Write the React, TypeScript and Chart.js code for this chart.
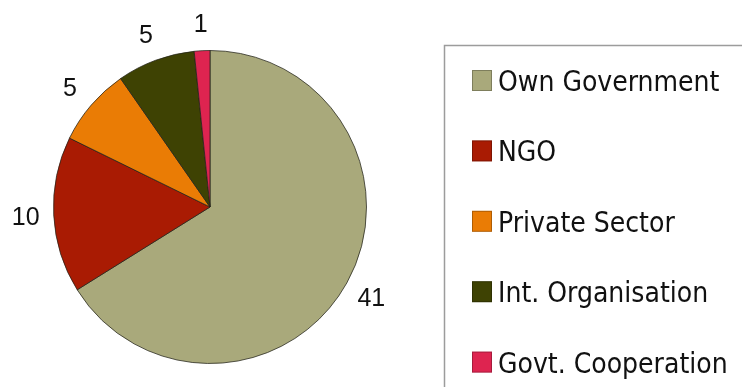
import React, { useEffect, useRef } from "react";
import { Chart, registerables } from "chart.js";

Chart.register(...registerables);

const categories = ["Own Government", "NGO", "Private Sector", "Int. Organisation", "Govt. Cooperation"];
const values = [41, 10, 5, 5, 1];
const colors = ["#a9a97b", "#a91b03", "#ea7c05", "#3e4203", "#de2450"];

const sliceLabels = {
  id: "sliceLabels",
  afterDatasetsDraw(chart: any) {
    const ctx = chart.ctx;
    const meta = chart.getDatasetMeta(0);
    const ds = chart.data.datasets[0];
    ctx.save();
    ctx.font = '25px "Liberation Sans", Arial, sans-serif';
    ctx.fillStyle = "#111";
    ctx.textAlign = "center";
    ctx.textBaseline = "alphabetic";
    meta.data.forEach((arc: any, i: number) => {
      const p = arc.getProps(["x", "y", "startAngle", "endAngle", "outerRadius"], true);
      const mid = (p.startAngle + p.endAngle) / 2;
      const r = p.outerRadius + 28;
      const x = p.x + r * Math.cos(mid);
      const y = p.y + r * Math.sin(mid);
      ctx.fillText(String(ds.data[i]), x, y + 9);
    });
    ctx.restore();
  },
};

const boxLegend = {
  id: "boxLegend",
  afterDraw(chart: any) {
    const ctx = chart.ctx;
    const ds = chart.data.datasets[0];
    ctx.save();
    ctx.strokeStyle = "#9c9c9c";
    ctx.lineWidth = 1.5;
    ctx.strokeRect(444.5, 45.5, 320, 360);
    ctx.font = '28px "DejaVu Sans Condensed", "DejaVu Sans", sans-serif';
    ctx.textAlign = "left";
    ctx.textBaseline = "alphabetic";
    chart.data.labels.forEach((label: string, i: number) => {
      const cy = 80.5 + i * 70.4;
      ctx.fillStyle = ds.backgroundColor[i];
      ctx.fillRect(472, cy - 10.5, 20, 21);
      ctx.strokeStyle = "rgba(0,0,0,0.25)";
      ctx.lineWidth = 1;
      ctx.strokeRect(472.5, cy - 10, 19, 20);
      ctx.fillStyle = "#111";
      ctx.fillText(label, 498, cy + 10.5);
    });
    ctx.restore();
  },
};

export default function App() {
  const ref = useRef<HTMLCanvasElement>(null);
  useEffect(() => {
    if (!ref.current) return;
    const chart = new Chart(ref.current, {
      type: "pie",
      data: {
        labels: categories,
        datasets: [
          {
            data: values,
            backgroundColor: colors,
            borderColor: "rgba(35,35,25,0.75)",
            borderWidth: 1,
          },
        ],
      },
      options: {
        responsive: false,
        animation: false,
        layout: { padding: { left: 53, right: 375, top: 50, bottom: 23 } },
        plugins: {
          legend: { display: false },
          tooltip: { enabled: false },
        },
      },
      plugins: [sliceLabels, boxLegend],
    });
    return () => chart.destroy();
  }, []);
  return (
    <div style={{ position: "fixed", left: 0, top: 0, width: 742, height: 387, background: "#fff" }}>
      <canvas ref={ref} width={742} height={387} style={{ display: "block" }} />
    </div>
  );
}
